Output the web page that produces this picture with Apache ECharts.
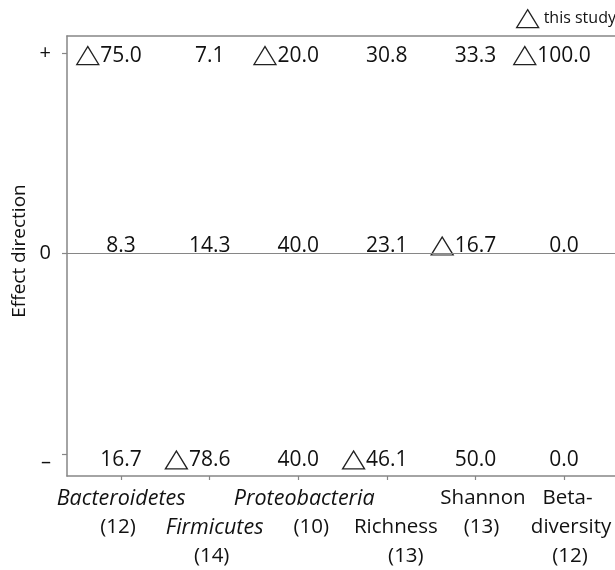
<!DOCTYPE html>
<html>
<head>
<meta charset="utf-8">
<script src="https://cdn.jsdelivr.net/npm/echarts@6/dist/echarts.min.js"></script>
<style>
  html, body { margin: 0; padding: 0; background: #fff; }
  #chart { width: 615px; height: 570px; }
</style>
</head>
<body>
<div id="chart"></div>
<script>
// Share of studies (%) reporting each effect direction, per outcome
const categories = ['Bacteroidetes', 'Firmicutes', 'Proteobacteria', 'Richness', 'Shannon', 'Beta-diversity'];
const studyCounts = [12, 14, 10, 13, 13, 12];
const italicNames = [true, true, true, false, false, false];
const positivePct = [75.0, 7.1, 20.0, 30.8, 33.3, 100.0];
const neutralPct = [8.3, 14.3, 40.0, 23.1, 16.7, 0.0];
const negativePct = [16.7, 78.6, 40.0, 46.1, 50.0, 0.0];
// direction found in this study: +1, 0 or -1
const thisStudyDirection = [1, -1, 1, -1, 0, 1];
const directionTicks = [-1, 0, 1];
const directionTickLabels = ['–', '0', '+'];

const FONT = 'Open Sans';
const TEXT = '#111';
const AXIS = '#868686';
const VALUE_SIZE = 21;

// vertical nudge of the percentage labels in each row
const rowShift = { '1': 2.5, '0': -7.5, '-1': 6 };
// staggered category labels: empty lines before each name, and sideways nudge per line (px)
const labelLead = [0, 1, 0, 1, 0, 0];
const labelLineShift = [[0, -3], [5, 2], [6, 13], [9, 19], [7.5, 6], [3.5, 7, 6]];

const measureCtx = document.createElement('canvas').getContext('2d');
function textWidth(s) {
  measureCtx.font = VALUE_SIZE + 'px "' + FONT + '"';
  return measureCtx.measureText(s).width;
}

const positions = categories.map((_, i) => i + 1);
const rows = [
  { dir: 1, values: positivePct },
  { dir: 0, values: neutralPct },
  { dir: -1, values: negativePct }
];

const pctData = [];
rows.forEach(row => {
  row.values.forEach((v, i) => {
    pctData.push({
      value: [positions[i], row.dir, v],
      label: { offset: [0, rowShift[row.dir]] }
    });
  });
});

const TRI_W = 22, TRI_H = 18;
const studyData = thisStudyDirection.map((dir, i) => {
  const row = rows.find(r => r.dir === dir);
  const txt = row.values[i].toFixed(1);
  const dx = -(textWidth(txt) / 2 + 1.5 + TRI_W / 2);
  return { value: [positions[i], dir], symbolOffset: [dx, rowShift[dir]] };
});

// rich styles for the category labels (one per line so each line can be nudged)
const labelRich = { blank: { fontFamily: FONT, fontSize: 20.5, lineHeight: 29, color: TEXT } };
function lineToken(i, k, text, italic) {
  const key = 'c' + i + 'l' + k;
  const dx = labelLineShift[i][k] || 0;
  labelRich[key] = {
    fontFamily: FONT,
    fontSize: italic ? 21.5 : 20.5,
    fontStyle: italic ? 'italic' : 'normal',
    lineHeight: 29,
    color: TEXT,
    padding: dx >= 0 ? [0, 0, 0, 2 * dx] : [0, -2 * dx, 0, 0]
  };
  return '{' + key + '|' + text + '}';
}
const categoryText = categories.map((name, i) => {
  const cut = name.indexOf('-') + 1;
  const parts = cut > 0 ? [name.slice(0, cut), name.slice(cut)] : [name];
  const lines = parts.map((p, k) => lineToken(i, k, p, italicNames[i]));
  lines.push(lineToken(i, parts.length, '(' + studyCounts[i] + ')', false));
  for (let k = 0; k < labelLead[i]; k++) lines.unshift('{blank| }');
  return lines.join('\n');
});
const categoryLabel = v => categoryText[Math.round(v) - 1];

const X_MIN = 0.39, X_MAX = 6.575;

// neighbouring labels overlap, so they are split over two bottom axes
function bottomAxis(values, showLine) {
  return {
    type: 'value',
    min: X_MIN,
    max: X_MAX,
    position: 'bottom',
    splitLine: { show: false },
    axisLine: { show: showLine, onZero: false, lineStyle: { color: AXIS, width: 1.5 } },
    axisTick: { show: showLine, customValues: positions.slice(), length: 4, lineStyle: { color: AXIS, width: 1.2 } },
    axisLabel: {
      show: true,
      customValues: values,
      margin: 8,
      hideOverlap: false,
      formatter: categoryLabel,
      rich: labelRich
    }
  };
}

const chart = echarts.init(document.getElementById('chart'), null, { renderer: 'canvas' });
chart.setOption({
  animation: false,
  backgroundColor: '#fff',
  textStyle: { fontFamily: FONT, color: TEXT },
  legend: {
    data: ['this study'],
    left: 516,
    top: 9,
    padding: 0,
    itemWidth: TRI_W,
    itemHeight: TRI_H,
    itemGap: 5,
    icon: 'triangle',
    itemStyle: { color: '#fff', borderColor: '#222', borderWidth: 1.3, opacity: 1 },
    textStyle: { fontFamily: FONT, fontSize: 16, color: TEXT }
  },
  grid: { left: 67, right: 0, top: 36, bottom: 94, containLabel: false, outerBoundsMode: 'none' },
  xAxis: [
    bottomAxis([1, 3, 5], true),
    bottomAxis([2, 4, 6], false),
    {
      type: 'value',
      min: X_MIN,
      max: X_MAX,
      position: 'top',
      splitLine: { show: false },
      axisLine: { show: true, onZero: false, lineStyle: { color: AXIS, width: 1.5 } },
      axisTick: { show: false },
      axisLabel: { show: false }
    }
  ],
  yAxis: {
    type: 'value',
    min: -1.11,
    max: 1.085,
    name: 'Effect direction',
    nameLocation: 'middle',
    nameGap: 37,
    nameTextStyle: { fontFamily: FONT, fontSize: 19, color: TEXT, padding: [0, 0, 0, 10] },
    splitLine: { show: false },
    axisLine: { show: true, onZero: false, lineStyle: { color: AXIS, width: 1.5 } },
    axisTick: { show: true, customValues: directionTicks, length: 5, lineStyle: { color: AXIS, width: 1.2 } },
    axisLabel: {
      customValues: directionTicks,
      margin: 16,
      showMinLabel: true,
      showMaxLabel: true,
      fontFamily: FONT,
      fontSize: 20,
      color: TEXT,
      formatter: v => {
        const s = directionTickLabels[directionTicks.indexOf(Math.round(v))];
        return v < 0 ? '{low|' + s + '}' : s;
      },
      rich: { low: { fontFamily: FONT, fontSize: 20, color: TEXT, padding: [16, 0, 0, 0] } }
    }
  },
  series: [
    {
      name: 'share',
      type: 'scatter',
      xAxisIndex: 0,
      symbolSize: 1,
      itemStyle: { color: 'rgba(0,0,0,0)', opacity: 1 },
      silent: true,
      data: pctData,
      label: {
        show: true,
        position: 'inside',
        fontFamily: FONT,
        fontSize: VALUE_SIZE,
        color: TEXT,
        formatter: p => p.value[2].toFixed(1)
      },
      markLine: {
        silent: true,
        symbol: ['none', 'none'],
        label: { show: false },
        lineStyle: { color: AXIS, width: 1.2, type: 'solid', opacity: 1 },
        data: [{ yAxis: 0 }]
      }
    },
    {
      name: 'this study',
      type: 'scatter',
      xAxisIndex: 0,
      symbol: 'triangle',
      symbolSize: [TRI_W, TRI_H],
      itemStyle: { color: '#fff', borderColor: '#222', borderWidth: 1.3, opacity: 1 },
      silent: true,
      data: studyData
    }
  ]
});
</script>
</body>
</html>
